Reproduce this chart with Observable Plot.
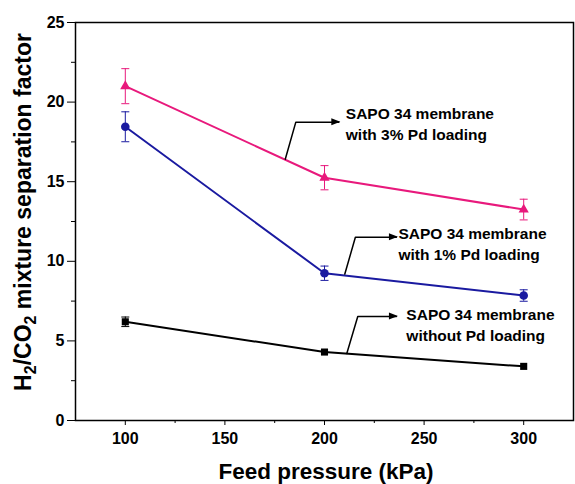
<!DOCTYPE html>
<html>
<head>
<meta charset="utf-8">
<script src="https://cdn.jsdelivr.net/npm/d3@7"></script>
<script src="https://cdn.jsdelivr.net/npm/@observablehq/plot@0.6"></script>
<style>
  html, body { margin: 0; padding: 0; background: #fff; }
  #chart { width: 575px; height: 484px; }
</style>
</head>
<body>
<div id="chart"></div>
<script>
// ---- data ----
const pressure = [100, 200, 300];
const pd3Value = [21.0, 15.25, 13.25];
const pd3Err = [1.1, 0.76, 0.65];
const pd1Value = [18.45, 9.25, 7.85];
const pd1Err = [0.94, 0.45, 0.36];
const noPdValue = [6.2, 4.3, 3.4];
const noPdErr = [0.3, 0, 0];

const xMajorTicks = [100, 150, 200, 250, 300];
const xMinorTicks = [125, 175, 225, 275];
const yMajorTicks = [0, 5, 10, 15, 20, 25];
const yMinorTicks = [2.5, 7.5, 12.5, 17.5, 22.5];

const seriesNames = ["3% Pd", "1% Pd", "no Pd"];
const seriesColors = ["#e8197c", "#1a1aa0", "#000000"];
const seriesSymbols = ["triangle", "circle", "square"];

// annotation arrows (data coordinates) and labels
const arrow3 = [[180.3, 16.41], [185.6, 18.74], [207.2, 18.74]];
const arrow1 = [[210.2, 9.2], [215.5, 11.51], [236.1, 11.51]];
const arrow0 = [[211.2, 4.21], [216.7, 6.53], [236.1, 6.53]];
const labelX = [210.7, 237.1, 241.1];
const labelY = [18.69, 11.16, 6.09];
const labelText = [
  "SAPO 34 membrane\nwith 3% Pd loading",
  "SAPO 34 membrane\nwith 1% Pd loading",
  "SAPO 34 membrane\nwithout Pd loading"
];

const xTitle = "Feed pressure (kPa)";

// ---- build tables ----
function rows(values, errs, name) {
  return pressure.map((p, i) => ({x: p, y: values[i], e: errs[i], s: name}));
}
const all = [
  ...rows(pd3Value, pd3Err, seriesNames[0]),
  ...rows(pd1Value, pd1Err, seriesNames[1]),
  ...rows(noPdValue, noPdErr, seriesNames[2])
];
const errRows = all.filter(d => d.e > 0);
const arrows = [arrow3, arrow1, arrow0].flatMap((a, k) => a.map(([x, y]) => ({x, y, k})));
const labels = labelText.map((t, i) => ({x: labelX[i], y: labelY[i], t}));

const capSymbol = {
  draw(context, size) {
    const r = Math.sqrt(size / Math.PI);
    context.moveTo(-r, 0);
    context.lineTo(r, 0);
  }
};

const font = "'Liberation Sans', Arial, Helvetica, sans-serif";

const marks = [
  Plot.frame({stroke: "black", strokeWidth: 1.5}),
  Plot.axisX({ticks: xMajorTicks, tickSize: 5, tickPadding: 7, label: null, fontSize: 16, fontWeight: "bold"}),
  Plot.axisX({ticks: xMinorTicks, tickSize: 3, tickFormat: () => "", label: null}),
  Plot.axisY({ticks: yMajorTicks, tickSize: 8, tickPadding: 3, label: null, fontSize: 16, fontWeight: "bold"}),
  Plot.axisY({ticks: yMinorTicks, tickSize: 4, tickFormat: () => "", label: null}),
];

seriesNames.forEach((name, i) => {
  const data = all.filter(d => d.s === name);
  const errs = errRows.filter(d => d.s === name);
  marks.push(
    Plot.ruleX(errs, {x: "x", y1: d => d.y - d.e, y2: d => d.y + d.e, stroke: seriesColors[i], strokeWidth: 1}),
    Plot.dot(errs, {x: "x", y: d => d.y + d.e, symbol: capSymbol, r: 4, stroke: seriesColors[i], strokeWidth: 1}),
    Plot.dot(errs, {x: "x", y: d => d.y - d.e, symbol: capSymbol, r: 4, stroke: seriesColors[i], strokeWidth: 1}),
    Plot.line(data, {x: "x", y: "y", stroke: seriesColors[i], strokeWidth: 2}),
    Plot.dot(data, {x: "x", y: "y", symbol: seriesSymbols[i], r: i === 0 ? 3.8 : (i === 1 ? 4.3 : 4), fill: seriesColors[i], stroke: "none"})
  );
});

marks.push(
  Plot.line(arrows, {x: "x", y: "y", z: "k", stroke: "black", strokeWidth: 1.5}),
  Plot.text(labels, {x: "x", y: "y", text: "t", textAnchor: "start", lineAnchor: "middle", lineHeight: 1.35, fontSize: 15.5, fontWeight: "bold", fill: "black"})
);

const svg = Plot.plot({
  width: 575,
  height: 484,
  marginLeft: 75,
  marginRight: 2,
  marginTop: 22,
  marginBottom: 64,
  style: {fontFamily: font, background: "white", color: "black", overflow: "visible"},
  x: {domain: [75, 325]},
  y: {domain: [0, 25]},
  marks
});

const s = d3.select(svg);

// filled arrowheads at the ends of the annotation leaders
const xs = d3.scaleLinear().domain([75, 325]).range([75, 573]);
const ys = d3.scaleLinear().domain([0, 25]).range([420, 22]);
[arrow3, arrow1, arrow0].forEach(a => {
  const [x, y] = a[a.length - 1];
  const px = xs(x), py = ys(y);
  s.append("path")
    .attr("d", `M${px + 2},${py} L${px - 7},${py - 3.5} L${px - 7},${py + 3.5} Z`)
    .attr("fill", "black");
});

// axis titles with subscripts
s.append("text")
  .attr("x", 326).attr("y", 479)
  .attr("text-anchor", "middle")
  .attr("font-family", font).attr("font-size", 22.5).attr("font-weight", "bold")
  .attr("fill", "black")
  .text(xTitle);

const yt = s.append("text")
  .attr("transform", "translate(31,212) rotate(-90)")
  .attr("text-anchor", "middle")
  .attr("font-family", font).attr("font-size", 23).attr("font-weight", "bold")
  .attr("fill", "black");
yt.append("tspan").text("H");
yt.append("tspan").attr("font-size", 16).attr("dy", 5).text("2");
yt.append("tspan").attr("dy", -5).text("/CO");
yt.append("tspan").attr("font-size", 16).attr("dy", 5).text("2");
yt.append("tspan").attr("dy", -5).text(" mixture separation factor");

document.getElementById("chart").appendChild(svg);
</script>
</body>
</html>
